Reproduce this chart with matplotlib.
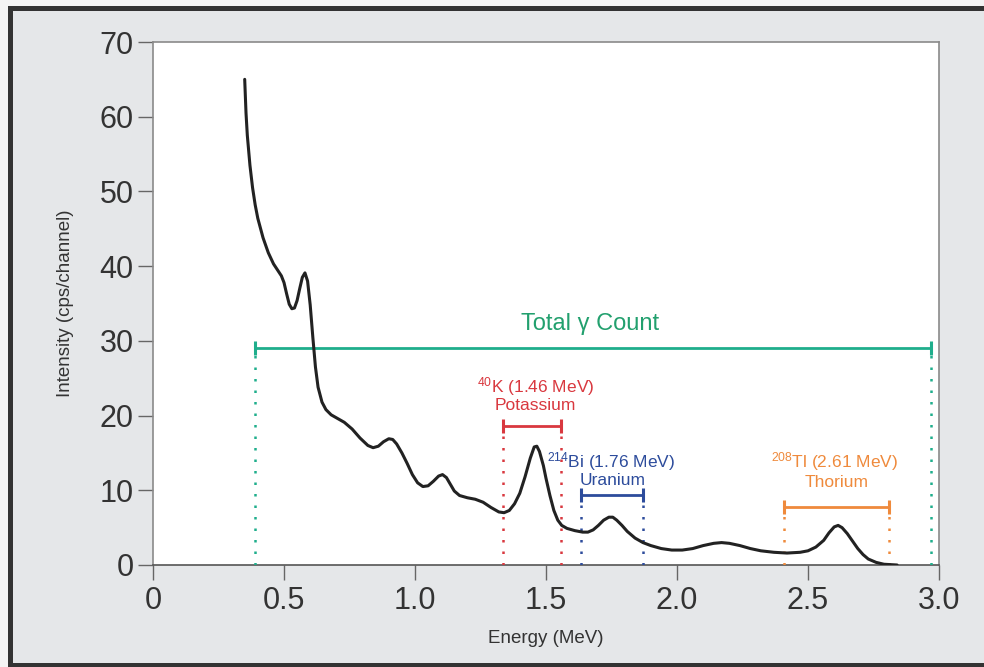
import matplotlib
matplotlib.use('Agg')
import matplotlib.pyplot as plt
from matplotlib.patches import Rectangle

plt.rcParams['font.family'] = ['Liberation Sans', 'DejaVu Sans']
plt.rcParams['mathtext.fontset'] = 'custom'
plt.rcParams['mathtext.rm'] = 'Liberation Sans'
plt.rcParams['mathtext.it'] = 'Liberation Sans:italic'

# spectrum (MeV, cps/channel)
energy = [0.35, 0.355, 0.36, 0.37, 0.38, 0.39, 0.40, 0.42, 0.44, 0.46,
          0.475, 0.49, 0.50, 0.51, 0.52, 0.53, 0.54, 0.55, 0.56, 0.57,
          0.58, 0.59, 0.60, 0.61, 0.62, 0.63, 0.645, 0.66, 0.68, 0.70,
          0.73, 0.76, 0.79, 0.82, 0.84, 0.86, 0.88, 0.90, 0.915, 0.93,
          0.95, 0.97, 0.99, 1.01, 1.03, 1.05, 1.07, 1.09, 1.105, 1.12,
          1.135, 1.15, 1.17, 1.20, 1.23, 1.26, 1.29, 1.32, 1.34, 1.36,
          1.38, 1.40, 1.42, 1.44, 1.455, 1.465, 1.475, 1.49, 1.50, 1.515,
          1.53, 1.545, 1.56, 1.58, 1.61, 1.64, 1.66, 1.68, 1.70, 1.72,
          1.74, 1.755, 1.77, 1.79, 1.81, 1.84, 1.87, 1.90, 1.94, 1.98,
          2.02, 2.06, 2.10, 2.14, 2.17, 2.20, 2.24, 2.28, 2.32, 2.37,
          2.42, 2.47, 2.50, 2.53, 2.56, 2.58, 2.60, 2.615, 2.63, 2.65,
          2.67, 2.69, 2.71, 2.73, 2.76, 2.79, 2.84]
intensity = [65.0, 60.5, 57.5, 53.5, 50.5, 48.2, 46.4, 43.8, 41.8, 40.3,
             39.5, 38.7, 37.8, 36.3, 34.9, 34.3, 34.4, 35.4, 37.0, 38.5,
             39.1, 38.0, 34.8, 30.5, 26.5, 23.8, 21.8, 20.8, 20.1, 19.7,
             19.1, 18.2, 17.0, 16.0, 15.7, 15.9, 16.5, 16.9, 16.8, 16.2,
             15.0, 13.6, 12.1, 11.0, 10.5, 10.6, 11.2, 11.9, 12.1, 11.7,
             10.8, 9.9, 9.3, 9.0, 8.8, 8.4, 7.7, 7.1, 7.0, 7.3,
             8.2, 9.6, 11.8, 14.3, 15.8, 15.9, 15.2, 13.3, 11.6, 9.3,
             7.3, 6.0, 5.3, 4.9, 4.6, 4.4, 4.4, 4.7, 5.3, 6.0,
             6.4, 6.4, 6.0, 5.3, 4.5, 3.6, 3.0, 2.6, 2.2, 2.0,
             2.0, 2.2, 2.6, 2.9, 3.0, 2.9, 2.6, 2.2, 1.9, 1.7,
             1.6, 1.7, 1.9, 2.4, 3.3, 4.3, 5.1, 5.3, 5.0, 4.2,
             3.2, 2.2, 1.4, 0.8, 0.35, 0.1, 0.0]

# energy windows: (left, right, bracket height, colour)
win_total = (0.39, 2.97, 29.0, '#1fae8c')
win_k = (1.335, 1.557, 18.6, '#d9383f')
win_u = (1.634, 1.870, 9.4, '#2d4c9c')
win_th = (2.41, 2.81, 7.8, '#ef8a3c')

xticks = [0, 0.5, 1.0, 1.5, 2.0, 2.5, 3.0]
xticklabels = ['0', '0.5', '1.0', '1.5', '2.0', '2.5', '3.0']
yticks = [0, 10, 20, 30, 40, 50, 60, 70]

fig = plt.figure(figsize=(9.84, 6.67), dpi=100)
fig.patch.set_facecolor('#f4f4f4')
frame = Rectangle((9.5 / 984, 2 / 667), 1.0, (659 - 2) / 667,
                  transform=fig.transFigure, facecolor='#e5e7e9',
                  edgecolor='#333333', linewidth=3.6, zorder=-1)
fig.patches.append(frame)

ax = fig.add_axes((153 / 984, 102 / 667, 786 / 984, 523 / 667))
ax.set_facecolor('white')

ax.plot(energy, intensity, color='#222222', lw=2.2, zorder=5,
        solid_joinstyle='round', solid_capstyle='round')


def draw_window(w):
    left, right, h, c = w
    for xv in (left, right):
        ax.plot([xv, xv], [0, h], color=c, lw=1.8, linestyle=(0, (1, 3.6)),
                zorder=3)
    ax.plot([left, right], [h, h], color=c, lw=2.0, zorder=4,
            marker='|', markersize=10, markeredgewidth=2.2)


for w in (win_total, win_k, win_u, win_th):
    draw_window(w)

ax.text(1.67, 32.2, 'Total \u03b3 Count', color='#22a06e', fontsize=17,
        ha='center', va='center')
ax.text(1.46, 23.9, r'$^{40}$K (1.46 MeV)', color='#d9383f', fontsize=12.5,
        ha='center', va='center')
ax.text(1.46, 21.4, 'Potassium', color='#d9383f', fontsize=12.5,
        ha='center', va='center')
ax.text(1.75, 13.9, r'$^{214}$Bi (1.76 MeV)', color='#2d4c9c', fontsize=12.5,
        ha='center', va='center')
ax.text(1.755, 11.3, 'Uranium', color='#2d4c9c', fontsize=12.5,
        ha='center', va='center')
ax.text(2.60, 13.8, r'$^{208}$Tl (2.61 MeV)', color='#ef8a3c', fontsize=12.5,
        ha='center', va='center')
ax.text(2.61, 11.1, 'Thorium', color='#ef8a3c', fontsize=12.5,
        ha='center', va='center')

ax.set_xlim(0, 3.0)
ax.set_ylim(0, 70)
ax.set_xticks(xticks)
ax.set_xticklabels(xticklabels)
ax.set_yticks(yticks)
ax.tick_params(direction='out', length=11, width=1, color='#666666',
               labelsize=22, labelcolor='#333333')
ax.tick_params(axis='x', pad=4)
ax.tick_params(axis='y', pad=3)
for s in ax.spines.values():
    s.set_color('#8a8a8a')
    s.set_linewidth(1.2)
ax.spines['bottom'].set_color('#555555')

ax.set_xlabel('Energy (MeV)', fontsize=13.5, color='#333333', labelpad=10)
ax.set_ylabel('Intensity (cps/channel)', fontsize=13.5, color='#333333',
              labelpad=18)

fig.savefig('out.png', dpi=100, facecolor=fig.get_facecolor())
